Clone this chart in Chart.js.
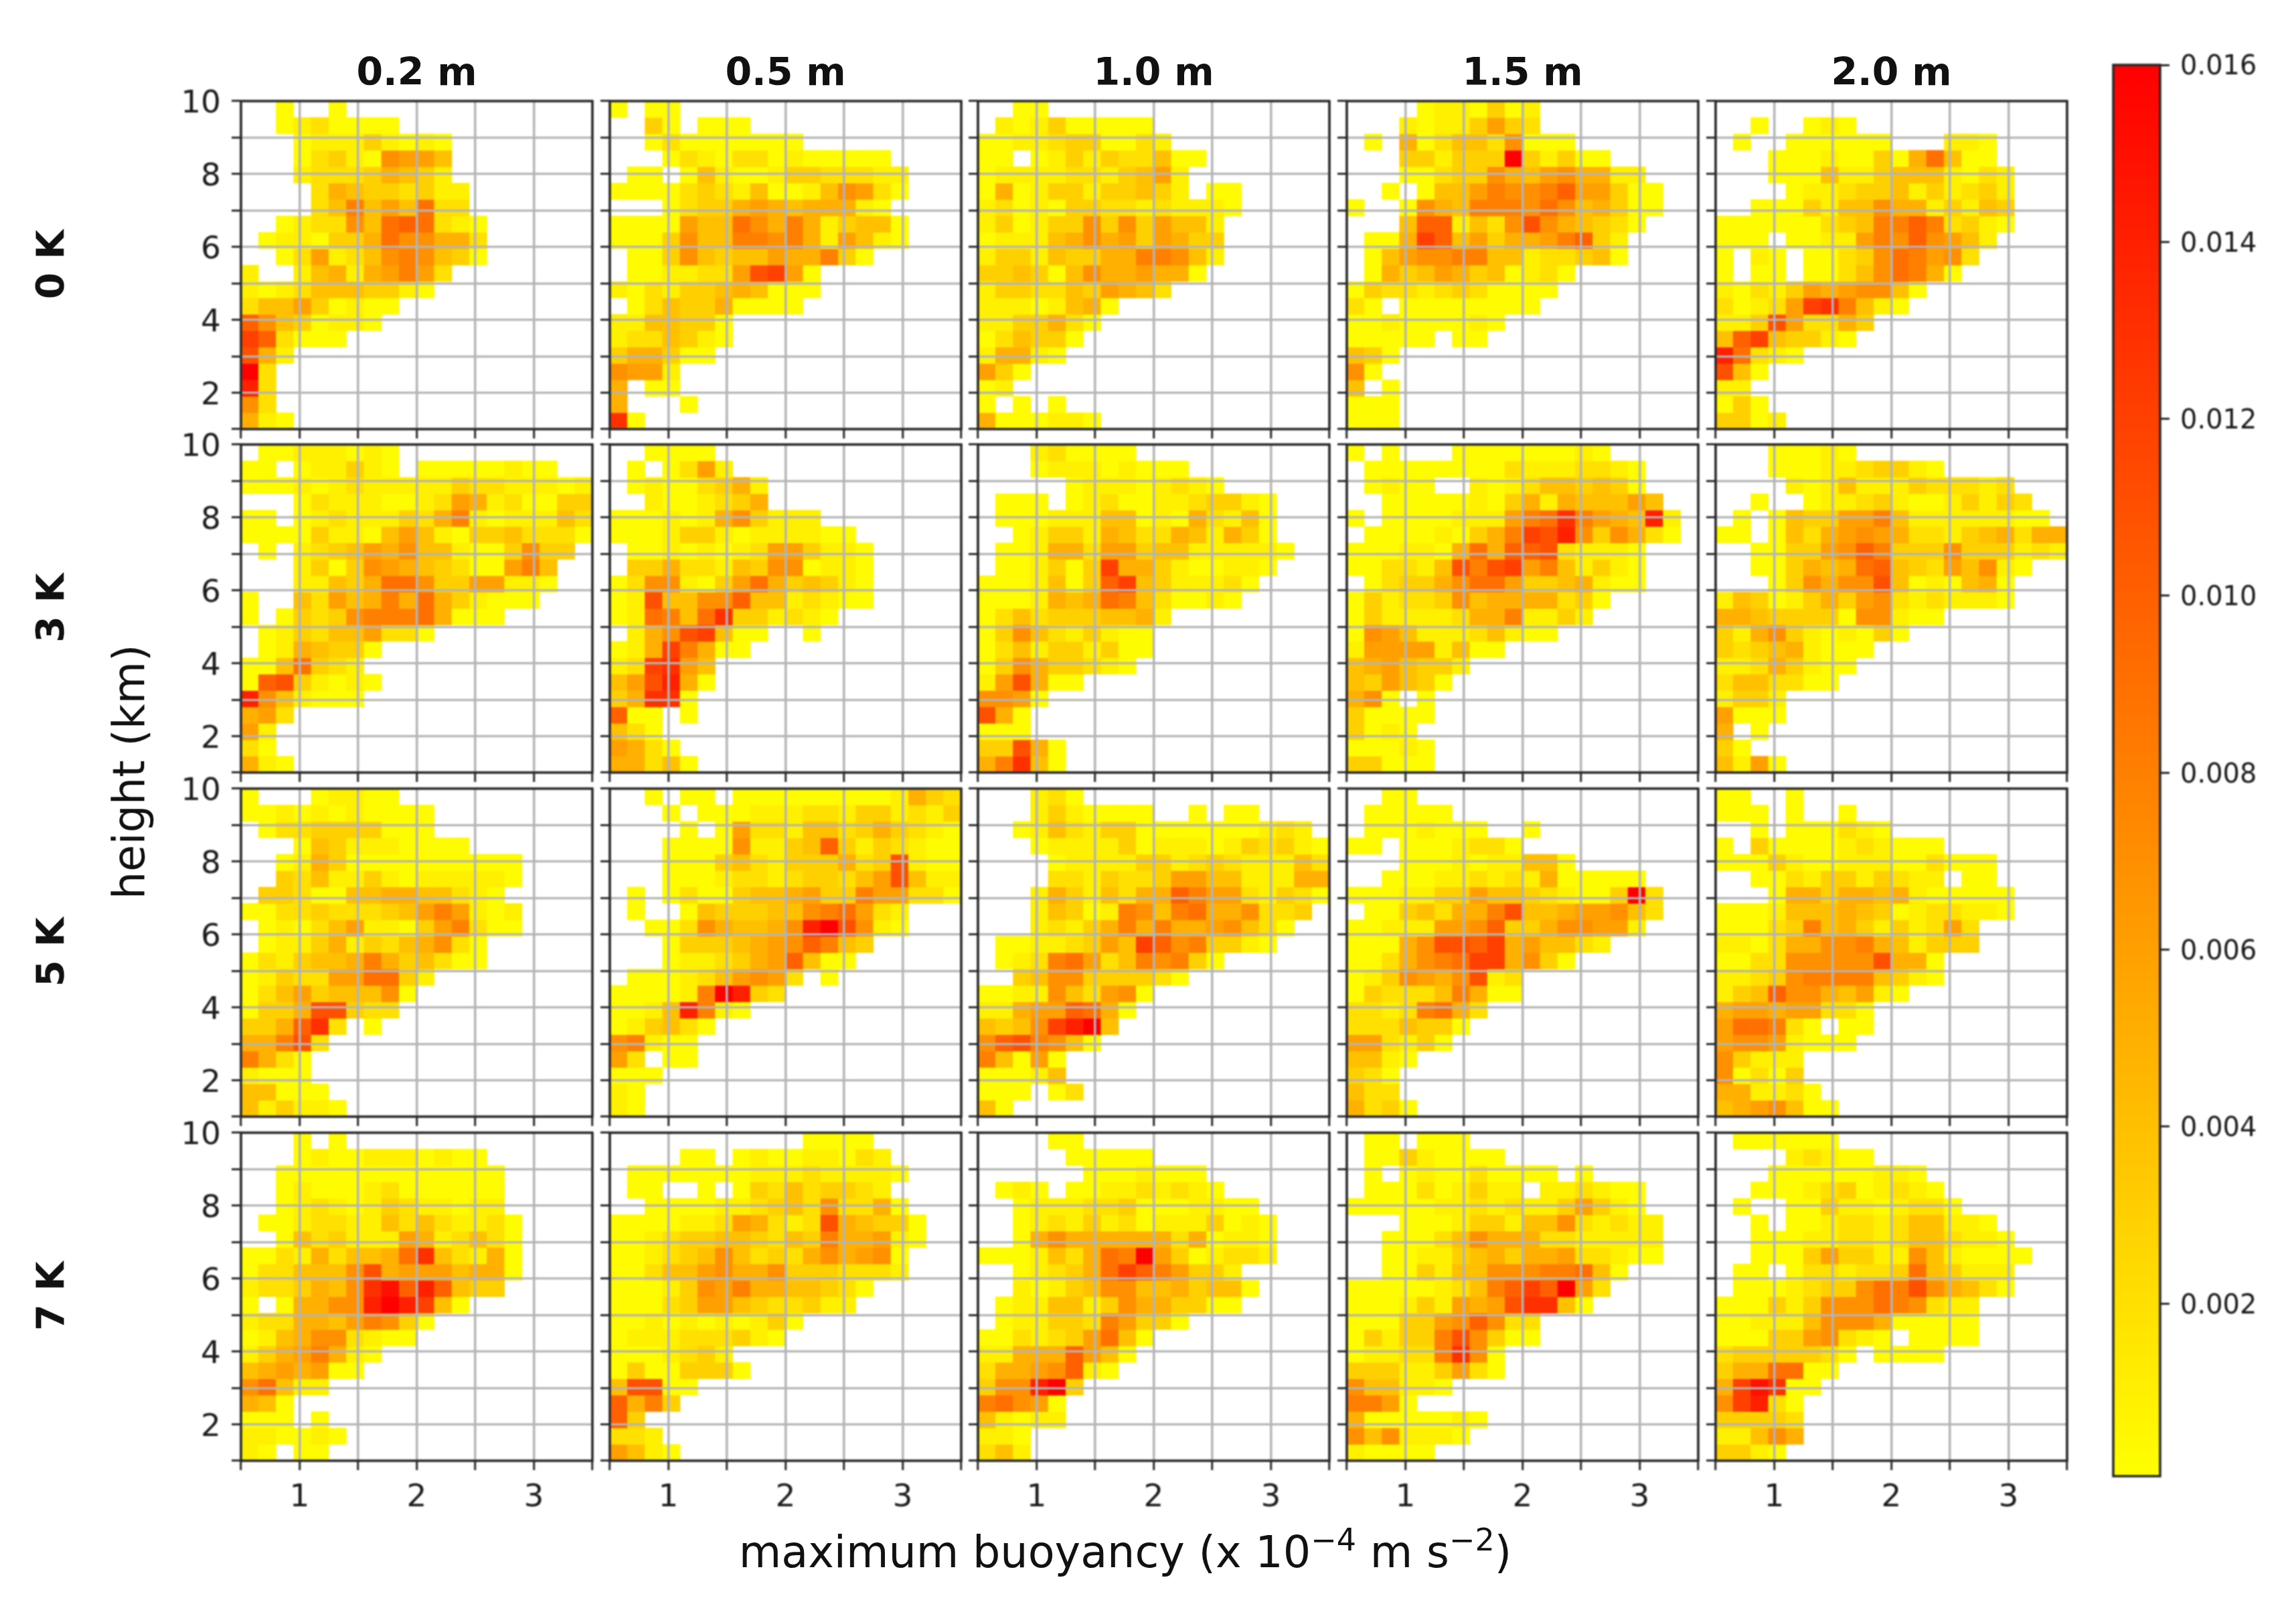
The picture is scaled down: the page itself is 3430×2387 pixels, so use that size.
<!DOCTYPE html>
<html>
<head>
<meta charset="utf-8">
<script src="https://cdn.jsdelivr.net/npm/chart.js@4"></script>
<style>
html,body{margin:0;padding:0;background:#fff;}
body{position:relative;width:3430px;height:2387px;overflow:hidden;font-family:"DejaVu Sans",sans-serif;color:#111;}
canvas{position:absolute;filter:blur(0.8px);}
.t{position:absolute;white-space:nowrap;transform:translate(-50%,-50%);line-height:1;filter:blur(0.6px);}
.r{transform:translate(-50%,-50%) rotate(-90deg);}
.b{font-weight:bold;font-size:57px;}
.a{font-size:65.2px;}
sup{font-size:46px;line-height:0;vertical-align:baseline;position:relative;top:-25px;}
</style>
</head>
<body>
<script>
// Tick labels and panel headings
const bulbSizes = ['0.2 m','0.5 m','1.0 m','1.5 m','2.0 m'];
const coolings = ['0 K','3 K','5 K','7 K'];
const xTicks = [1,2,3];
const yTicks = [2,4,6,8,10];
const colorbarTicks = [0.002,0.004,0.006,0.008,0.010,0.012,0.014,0.016];

// Cell values, top row (9.55-10 km) first, left column first.
// '.' = no data, 0 = below 0.001, 1-9,a-g = value in units of 0.001.
const p_0K_02 = ["..0..0","..0120000","...011131010","...023107664","...122235431","....254332311","....248464922","..0122749a9210",".0110335977552","..026124787430","1..145156862","10124443310","244630100","a7430110","ca2000","b51","g2","e2","72","510"];
const p_0K_05 = ["0.00","..30.000","..020000000","...0210220100000",".00.0410013322211","00002321400147620","...0233565455510","00006449758513440","00037448878516410",".00374344655830",".0011226bc60","102133454000",".0243350000","1144330","1224310","355300","7661","5.00","5...0","d0"];
const p_0K_10 = ["..00",".101300000","00112330021","00.0131322400","011112213461","050133133431.00","120103322121110","13013373736441","01114575636533","13314335588741","3343047556550","13322436542","11101450","1133520","024330","15510","630","01","0.0.0","5000110"];
const p_0K_15 = ["....0110301","...10113632",".0.5024427000","...331333g31300","...00233754675511","..0.04468778a66300","0..075488879745300","...4aa1427b754320",".005ca4635568a31",".046778844122340",".053465340120","032212320000","20.00000000","001000010","00000.00","430","70","4.0","000","000"];
const p_0K_20 = ["","..0..010",".0..000000...110","...0001003059400","...00041134441021","....0112334131231","..000314475513143","00000023488a82310","000.0011687a7641","0.10.0023798672","0.00.002479850","102136567740","20126cd8410","113b62253","4ac43310","e9210","b40","11","030","3301"];

const p_3K_02 = [".00111010","00.011310.00000100","00010121111132211101","...02111001265120033","00.01211132581011142","00003110464103342220",".0.1234657441003733","...130376543200684","...114359973366110","0..42645859531000","0.0323788895000",".0132446220",".0154330","0049321","0ab31010","e741000","562","61","20","510"];
const p_3K_05 = ["..0000",".0.0261",".01002351","..1001235","000101573111","00013310111100",".00101012663110",".33522143770110","027710369534310","01b4477a4412100","019849d331210",".157bc400..0","015c8500","12cd64","46be50","35dd0","a00.0","420","6520","55240"];
const p_3K_10 = ["...120000","...011101000",".....011101210",".000.012001123310",".0001114401052140","..013315422541530",".00155266344111110",".001303c553100110","0001403ac4311120","000154598420010","02423334451","0374213100","0241331300","037533210","16b500","7760","b50","000","33b50","58d40"];
const p_3K_15 = ["0.0...000000010",".0000000021112210",".0100..1012443430","..0000010351544464","0.0000111689d8654e1",".000010358cbe737520","000110595aab21110","002214b8bc6841310",".0233579963345100","031223745555230","03111125581131","076411124100","166661400","4564331","436430","570.0","30000","3010","00010","33000"];
const p_3K_20 = ["...00010","...0001123310","....1014111322212","..0..0112310013132",".0.0433668411111100","00.04256765221345255","..003367a83337333121","..0035459a43264710","...037577b4010450","14301353672121110","5543333077100","31573101030","323451000","11253100","2442200","1331","6000","5.0","30","4160"];

const p_5K_02 = ["0...01100","00101010000",".0223333000","...0431110000","..01530000000000","..32411310111110",".33200445544210","0022322234686101",".010246110368200",".0113513245720","02134458534200","01322669931","0246344470","0335bb322","335ad2.0","558b2","8520","1000","44000","413110"];
const p_5K_05 = ["..0.00.0000000001532","...0.000111221331213","....0.06221442353210","...000071134a3132100","...0003421333523b100","...0001221233246b411",".0.02003445633866220",".0..0433344789621","..002754457egb710","...03334567a843","...0112356a400",".0001246762.0","000018ge32","0014e810","013420","78100","62.00","000","10","10"];
const p_5K_10 = ["...120","...1310000..0.00","..01421330000000121","...01111301110132310","....0111133123211142","....2213223664411155","...15314255a86621320","...1430187489557223","...121358585567420",".00112364ca783310",".0128962487830","..3477333320","0011742670","11566a950","4347ceg4","7ab8740","84060","00014","000.02","40"];
const p_5K_15 = ["..00",".00000",".0001000..0","00.0001220","...0001011440","..000112121500000","0001133644321003g2",".00342558b44566742","00111667a33577661","00057bbac564421","0025789cc5730","0137657b12","0322248500","22128952","2224330","662130","4410","320","422","5230"];
const p_5K_20 = ["00..0","000.0..0","..0.000210","0.30000121000","0003100111002000","..00213313211.00","...05535545100000","00014445430122110","000238453131262","110255778541333","002277777b550","1123788884310","134a7754610","566566220","699820.00","67761000","73111","70203","551120","4567400"];

const p_7K_02 = ["...0.0","...01001110100","..0000000000000","..0100012000000","..0121013211011",".001221142421120","..04231116512420","0021524459d42150","0224447b56664550","1223547dfaea433","0.05577egec40","12255468730","0145772100","13568510","4565600","79411","540","000.0","110010","10.00"];
const p_7K_05 = ["...........0000","....00.010011021",".0000000111211110",".00..0.032423321","..000011234272250","000011265212b54330","001233443243855610","00123474232575670","00244675573332221","000137685544320","00023664322311","00101010130","0111222310","0001231","03003330","4bb00","a583","a3","221","6410"];
const p_7K_10 = ["....00",".....00000","......0001000",".010.001121210","..01112230001100","..012131201113010","..057555555250110","000142598g6301221","..012359ca86331","..10134774453440",".01144137553300",".01133286330","0021236940","11555a640","25567a10","377eg3","89760","41011","110","241"];
const p_7K_15 = [".00.000",".00310000",".0.010020000.0",".000201311.112100","00000112121136310","...000133144721211","..0002475552211111","..0011345355622100","..00314477788940","000001248acag62","000131656bdd40","0003367a722","031338b7300","011228d70","333113620","744110","8860","50000010","7471110","10000"];
const p_7K_20 = [".000000","....12100","...000000110","..00012301210",".0..0031101220","..0.001221244110","..000112212442110","..0003633117410000",".00.0221223943111",".0001233798b75420","000313777987211","001114777500000","0003367210.0000","23333320.0000","3559900","5cfd00","7ce20","33332","11475","3310"];

const panels = [
  [p_0K_02,p_0K_05,p_0K_10,p_0K_15,p_0K_20],
  [p_3K_02,p_3K_05,p_3K_10,p_3K_15,p_3K_20],
  [p_5K_02,p_5K_05,p_5K_10,p_5K_15,p_5K_20],
  [p_7K_02,p_7K_05,p_7K_10,p_7K_15,p_7K_20]
];

// Layout of the figure
const colLeft = [360,911,1461,2012,2563], rowTop = [151,664,1178,1692];
const panelW = 525, panelH = 490, padL = 85, padT = 30, padR = 8, padB = 80;
const xMin = 0.5, xMax = 3.5, yMin = 1, yMax = 10, nBins = 20;
const vMin = 0.00005, vMax = 0.016;
const TEXT = '#1a1a1a', FRAME = '#262626', GRID = '#b4b4b4';
const FONT = 'DejaVu Sans';

function colour(v){
  const t = Math.max(0, Math.min(1, (v - vMin) / (vMax - vMin)));
  return `rgb(255,${Math.round(255 * (1 - t))},0)`;
}
function cellValue(ch){ return ch === '0' ? 0.0003 : parseInt(ch, 17) * 0.001; }

const dx = (xMax - xMin) / nBins, dy = (yMax - yMin) / nBins;
function rowDataset(rowStr, r){
  const data = [], colors = [];
  for (let c = 0; c < rowStr.length; c++){
    const ch = rowStr[c];
    if (ch === '.') continue;
    const bottom = yMin + (nBins - 1 - r) * dy;
    data.push({x: xMin + (c + 0.5) * dx, y: [bottom, bottom + dy]});
    colors.push(colour(cellValue(ch)));
  }
  return {data, backgroundColor: colors, borderWidth: 0, barPercentage: 1, categoryPercentage: 1, grouped: false};
}

const framePlugin = {
  id: 'frame',
  afterDraw(chart){
    const a = chart.chartArea, c = chart.ctx;
    c.save(); c.strokeStyle = FRAME; c.lineWidth = 3.5;
    c.strokeRect(a.left, a.top, a.right - a.left, a.bottom - a.top);
    c.restore();
  }
};

function addCanvas(left, top, w, h){
  const cv = document.createElement('canvas');
  cv.width = w; cv.height = h;
  cv.style.left = left + 'px'; cv.style.top = top + 'px';
  cv.style.width = w + 'px'; cv.style.height = h + 'px';
  document.body.appendChild(cv);
  return cv;
}
function noMargins(s){ s.paddingTop = s.paddingBottom = s.paddingLeft = s.paddingRight = 0; }
// Nudges the vertical axis' tick labels down so they centre on their ticks.
function nudgeLabels(s, dy){
  if (s._nudged) return;
  s._nudged = true;
  const orig = s._computeLabelItems;
  s._computeLabelItems = function(area){
    const items = orig.call(this, area);
    items.forEach(it => { it.textOffset += dy; });
    return items;
  };
}

panels.forEach((row, ri) => row.forEach((rows, ci) => {
  const cv = addCanvas(colLeft[ci] - padL, rowTop[ri] - padT, padL + panelW + padR, padT + panelH + padB);
  new Chart(cv, {
    type: 'bar',
    data: {datasets: rows.map(rowDataset)},
    plugins: [framePlugin],
    options: {
      responsive: false, animation: false, devicePixelRatio: 1,
      layout: {padding: {left: 0, top: padT, right: padR, bottom: 0}, autoPadding: false},
      plugins: {legend: {display: false}, tooltip: {enabled: false}},
      scales: {
        x: {
          type: 'linear', min: xMin, max: xMax, offset: false,
          afterFit: s => { s.height = padB; noMargins(s); },
          grid: {offset: false, z: 1, color: GRID, lineWidth: 3.5, tickColor: FRAME, tickWidth: 3, tickLength: 14},
          border: {display: false},
          ticks: {
            stepSize: 0.5, autoSkip: false, maxRotation: 0, padding: 14, color: TEXT,
            font: {family: FONT, size: 47},
            callback: v => (ri === panels.length - 1 && xTicks.includes(v)) ? String(v) : ''
          }
        },
        y: {
          type: 'linear', min: yMin, max: yMax,
          afterFit: s => { s.width = padL; noMargins(s); nudgeLabels(s, 5); },
          grid: {z: 1, color: GRID, lineWidth: 3.2, tickColor: FRAME, tickWidth: 3, tickLength: 14},
          border: {display: false},
          ticks: {
            stepSize: 1, autoSkip: false, padding: 16, color: TEXT,
            font: {family: FONT, size: 47},
            callback: v => (ci === 0 && yTicks.includes(v)) ? String(v) : ''
          }
        }
      }
    }
  });
}));

// Colour bar
(function(){
  const L = 3157, T = 97, W = 70, H = 2108, pl = 5, pt = 30, pb = 20, pr = 190;
  const cv = addCanvas(L - pl, T - pt, pl + W + pr, pt + H + pb);
  new Chart(cv, {
    type: 'bar',
    data: {
      labels: ['colour scale'],
      datasets: [{
        data: [[vMin, vMax]],
        borderWidth: 0, barPercentage: 1, categoryPercentage: 1,
        backgroundColor(ctx){
          const a = ctx.chart.chartArea;
          if (!a) return '#ff0';
          const g = ctx.chart.ctx.createLinearGradient(0, a.bottom, 0, a.top);
          g.addColorStop(0, 'rgb(255,255,0)');
          g.addColorStop(1, 'rgb(255,0,0)');
          return g;
        }
      }]
    },
    plugins: [framePlugin],
    options: {
      responsive: false, animation: false, devicePixelRatio: 1,
      layout: {padding: {left: pl, top: pt, bottom: pb, right: 0}, autoPadding: false},
      plugins: {legend: {display: false}, tooltip: {enabled: false}},
      scales: {
        x: {display: false},
        y: {
          type: 'linear', position: 'right', min: vMin, max: vMax,
          afterFit: s => { s.width = pr; noMargins(s); nudgeLabels(s, 4); },
          afterBuildTicks: s => { s.ticks = colorbarTicks.map(value => ({value})); },
          grid: {drawOnChartArea: false, tickColor: FRAME, tickWidth: 3, tickLength: 14},
          border: {display: false},
          ticks: {padding: 16, color: TEXT, font: {family: FONT, size: 40}, callback: v => v.toFixed(3)}
        }
      }
    }
  });
})();

// Headings and axis titles
function label(html, x, y, cls){
  const d = document.createElement('div');
  d.className = 't ' + cls; d.innerHTML = html;
  d.style.left = x + 'px'; d.style.top = y + 'px';
  document.body.appendChild(d);
}
bulbSizes.forEach((s, i) => label(s, colLeft[i] + panelW / 2, 107, 'b'));
coolings.forEach((s, i) => label(s, 76, rowTop[i] + panelH / 2 - 1, 'b r'));
label('height (km)', 193, 1153, 'a r');
label('maximum buoyancy (x 10<sup>\u22124</sup> m s<sup>\u22122</sup>)', 1681, 2319, 'a');
</script>
</body>
</html>
